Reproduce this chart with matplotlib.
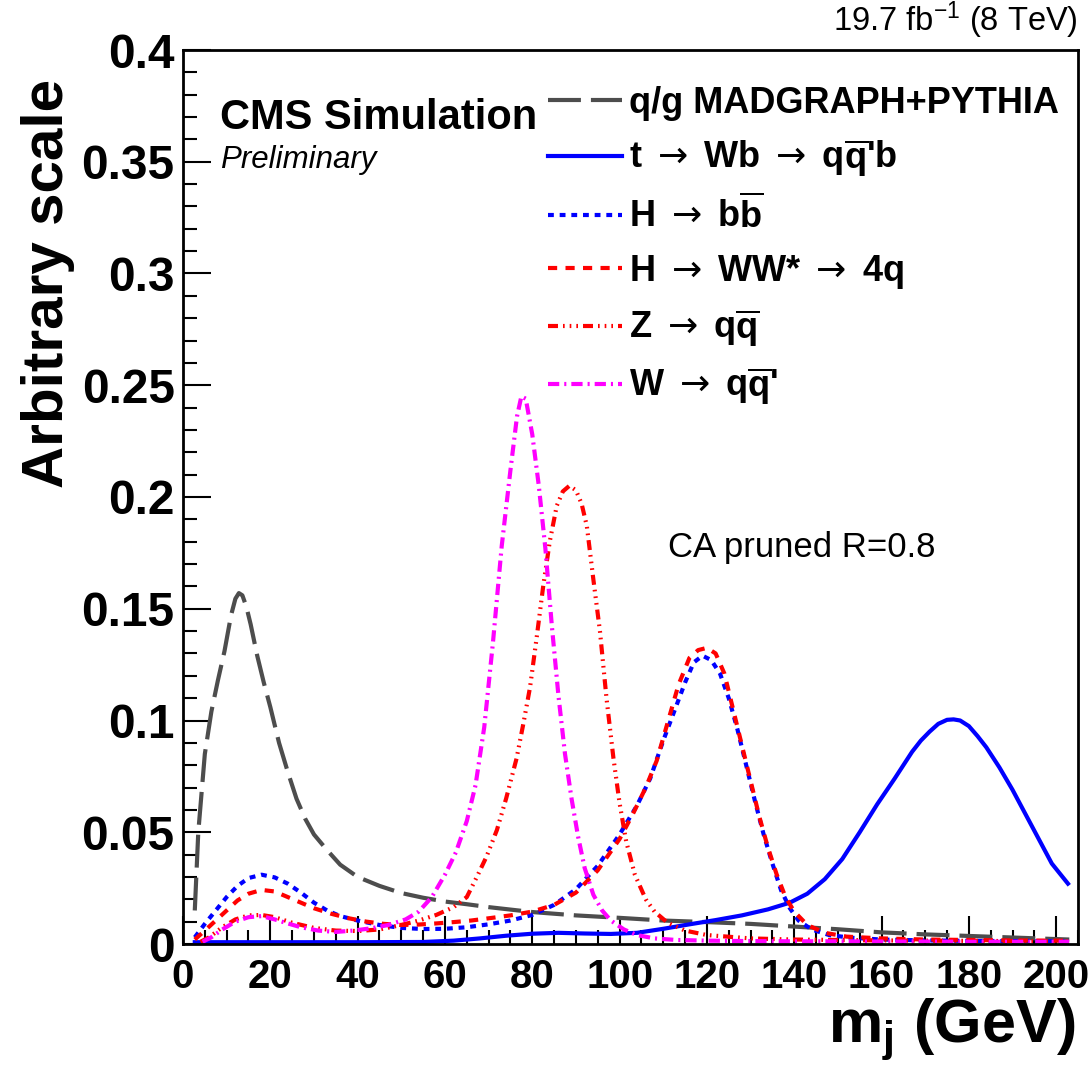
import numpy as np
import matplotlib
matplotlib.use("Agg")
import matplotlib.pyplot as plt
from matplotlib.ticker import MultipleLocator

plt.rcParams['font.family'] = ['Liberation Sans', 'DejaVu Sans']
plt.rcParams['mathtext.fontset'] = 'custom'
plt.rcParams['mathtext.rm'] = 'Liberation Sans'
plt.rcParams['mathtext.bf'] = 'Liberation Sans:bold'
plt.rcParams['mathtext.it'] = 'Liberation Sans:italic'
plt.rcParams['mathtext.sf'] = 'DejaVu Sans'

# Curves ---------------------------------------------------------------------------------------------------------------
qcd_x = [2.7, 3.5, 5, 6.5, 8, 9.5, 11, 12, 12.8, 13.6, 14.5, 15.5, 17, 18.5, 20, 22, 24, 26, 28, 30, 33, 36, 40, 45,
         50, 55, 60, 65, 70, 80, 90, 100, 110, 120, 130, 140, 150, 160, 170, 180, 190, 200, 203]
qcd_y = [0.015, 0.05, 0.085, 0.104, 0.118, 0.131, 0.147, 0.1545, 0.157, 0.156, 0.151, 0.143, 0.129, 0.117, 0.106,
         0.090, 0.077, 0.065, 0.056, 0.049, 0.042, 0.0355, 0.030, 0.026, 0.0228, 0.0207, 0.019, 0.0178, 0.0165,
         0.0143, 0.0128, 0.0117, 0.0105, 0.0098, 0.009, 0.0078, 0.0066, 0.0052, 0.0043, 0.0036, 0.0029, 0.0022, 0.002]

top_x = [2.7, 20, 40, 55, 62, 68, 74, 80, 86, 92, 98, 104, 110, 116, 122, 128, 134, 139, 143, 147, 151, 155, 159,
         163, 167, 169, 171, 173, 175, 176.5, 178, 180, 182, 184, 187, 190, 193, 196, 199, 202.7]
top_y = [0.0008, 0.0008, 0.0008, 0.0009, 0.0015, 0.0025, 0.0037, 0.0046, 0.005, 0.0047, 0.0045, 0.005, 0.0068,
         0.0088, 0.0107, 0.0128, 0.0155, 0.0185, 0.0225, 0.029, 0.038, 0.050, 0.0625, 0.074, 0.086, 0.091, 0.095,
         0.0985, 0.1003, 0.1005, 0.1, 0.0975, 0.093, 0.088, 0.079, 0.069, 0.058, 0.047, 0.036, 0.027]

hbb_x = [2.7, 5, 7.5, 10, 12.5, 15, 18, 21, 24, 27, 30, 33, 36, 40, 45, 50, 55, 60, 65, 70, 75, 80, 85, 90, 95,
         100, 104, 107, 110, 112.5, 115, 117, 119, 121, 123, 125, 127, 129, 131, 133, 135, 137, 139, 141, 144, 148,
         153, 160, 170, 180, 190, 200, 203]
hbb_y = [0.003, 0.009, 0.015, 0.021, 0.026, 0.0295, 0.031, 0.0298, 0.027, 0.023, 0.0185, 0.015, 0.0125, 0.0105,
         0.0085, 0.0072, 0.0067, 0.0068, 0.0075, 0.0088, 0.0105, 0.013, 0.0175, 0.0245, 0.035, 0.049, 0.062, 0.074,
         0.091, 0.104, 0.117, 0.126, 0.129, 0.127, 0.121, 0.11, 0.096, 0.08, 0.064, 0.049, 0.036, 0.024, 0.016,
         0.0105, 0.0065, 0.004, 0.0028, 0.002, 0.0016, 0.0014, 0.0013, 0.0012, 0.0012]

hww_x = [2.7, 5, 7.5, 10, 12.5, 15, 18, 21, 24, 27, 30, 34, 38, 42, 46, 50, 54, 58, 62, 66, 70, 75, 80, 85, 90, 95,
         100, 103, 106, 108.5, 111, 113.5, 116, 118, 120, 122, 124, 126, 128, 130, 132, 134, 136, 138, 140, 143,
         147, 152, 160, 170, 180, 190, 200, 203]
hww_y = [0.002, 0.006, 0.0105, 0.015, 0.0195, 0.0225, 0.0242, 0.0235, 0.021, 0.0185, 0.016, 0.0135, 0.0115, 0.010,
         0.009, 0.0085, 0.0087, 0.0092, 0.0098, 0.0105, 0.0115, 0.0128, 0.0145, 0.0175, 0.023, 0.033, 0.047, 0.058,
         0.070, 0.082, 0.099, 0.116, 0.128, 0.1315, 0.1325, 0.130, 0.121, 0.105, 0.089, 0.073, 0.057, 0.043, 0.031,
         0.021, 0.0145, 0.0085, 0.005, 0.0033, 0.0025, 0.002, 0.0018, 0.0016, 0.0015, 0.0015]

z_x = [4, 6, 9, 12, 15, 18, 21, 25, 30, 35, 40, 45, 50, 54, 58, 62, 65, 67.3, 69.5, 71.9, 74, 76.4, 78, 79.5, 81,
       82.5, 84, 85.6, 87, 88.5, 90, 91.3, 92.5, 94, 95.5, 97, 98.6, 100, 101.5, 103.5, 106, 108, 111, 115, 120,
       130, 140, 150, 160, 170, 180, 190, 200, 203]
z_y = [0.001, 0.003, 0.0075, 0.011, 0.0128, 0.013, 0.012, 0.0095, 0.0072, 0.006, 0.0058, 0.0065, 0.0085, 0.0105,
       0.013, 0.0165, 0.021, 0.030, 0.039, 0.051, 0.065, 0.083, 0.099, 0.115, 0.137, 0.160, 0.180, 0.196, 0.2025,
       0.205, 0.203, 0.197, 0.187, 0.163, 0.14, 0.11, 0.083, 0.063, 0.046, 0.031, 0.020, 0.0145, 0.0095, 0.006,
       0.004, 0.0025, 0.002, 0.0018, 0.0016, 0.0015, 0.0014, 0.0013, 0.0012, 0.0012]

w_x = [4.5, 6.5, 9, 12, 15, 18, 21, 24, 27, 31, 35, 39, 43, 47, 51, 54, 57, 60, 62.5, 65, 67, 69, 71, 73, 75, 76.5,
       77.5, 78.5, 80, 81.5, 83, 84.5, 86, 87.5, 89, 90.5, 92, 94, 96, 98, 101, 104, 108, 113, 120, 130, 140, 150,
       160, 170, 180, 190, 200, 203]
w_y = [0.001, 0.003, 0.0065, 0.010, 0.012, 0.0125, 0.011, 0.0092, 0.0075, 0.006, 0.0054, 0.006, 0.007, 0.0085,
       0.011, 0.0145, 0.021, 0.031, 0.041, 0.055, 0.071, 0.097, 0.135, 0.178, 0.212, 0.236, 0.245, 0.244, 0.228,
       0.205, 0.177, 0.142, 0.111, 0.085, 0.065, 0.048, 0.034, 0.022, 0.015, 0.0105, 0.0065, 0.004, 0.0025, 0.0018,
       0.0015, 0.0013, 0.0012, 0.0012, 0.0011, 0.0011, 0.001, 0.001, 0.001, 0.001]

# Figure ---------------------------------------------------------------------------------------------------------------
fig = plt.figure(figsize=(10.92, 10.87), dpi=100)
ax = fig.add_axes([183/1092, 143/1087, 895/1092, 894/1087])

lw = 3.0
arrow = r"$\mathsf{\rightarrow}$"
qbar = r"$\overline{\mathbf{q}}$"
kw = dict(lw=lw, dash_capstyle="butt", solid_joinstyle="round", dash_joinstyle="round")
ax.plot(qcd_x, qcd_y, color="#4d4d4d", dashes=(7.9, 2.4), label="q/g MADGRAPH+PYTHIA", **kw)
ax.plot(top_x, top_y, color="#0000ff", label=f"t {arrow} Wb {arrow} q{qbar}'b", **kw)
ax.plot(hbb_x, hbb_y, color="#0000ff", dashes=(1.4, 1.4), label=f"H {arrow} b" + r"$\overline{\mathbf{b}}$", **kw)
ax.plot(hww_x, hww_y, color="#ff0000", dashes=(2.2, 2.0), label=f"H {arrow} WW* {arrow} 4q", **kw)
ax.plot(z_x, z_y, color="#ff0000", dashes=(2.4, 1.2, 0.4, 1.2, 0.4, 1.2, 0.4, 1.2),
        label=f"Z {arrow} q{qbar}", **kw)
ax.plot(w_x, w_y, color="#ff00ff", dashes=(2.7, 1.2, 0.5, 1.2), label=f"W {arrow} q{qbar}'", **kw)

ax.set_xlim(0, 205)
ax.set_ylim(0, 0.4)
ax.xaxis.set_major_locator(MultipleLocator(20))
ax.xaxis.set_minor_locator(MultipleLocator(5))
ax.yaxis.set_major_locator(MultipleLocator(0.05))
ax.yaxis.set_minor_locator(MultipleLocator(0.01))
ax.yaxis.set_major_formatter(plt.FuncFormatter(lambda v, p: "0" if v == 0 else ("%g" % round(v, 2))))
ax.tick_params(which="both", direction="in", top=False, right=False, width=1.5)
ax.tick_params(which="major", length=20)
ax.tick_params(which="minor", length=10)
ax.tick_params(axis="y", labelsize=34.5, pad=6)
ax.tick_params(axis="x", labelsize=29, pad=10)
for lab in ax.get_xticklabels() + ax.get_yticklabels():
    lab.set_fontweight("bold")
for s in ax.spines.values():
    s.set_linewidth(2)

fig.text(48/1092, 1 - 283/1087, "Arbitrary scale", rotation=90, ha="center", va="center",
         fontsize=42, fontweight="bold")
fig.text(1075/1092, 1 - 1030/1087, "$\\mathbf{m_{j}}$ (GeV)", ha="right", va="center",
         fontsize=44, fontweight="bold")
fig.text(1078/1092, 1 - 20/1087, "19.7 fb$^{-1}$ (8 TeV)", ha="right", va="center", fontsize=23.5)

ax.text(0.0413, 0.924, "CMS Simulation", transform=ax.transAxes, fontsize=30, fontweight="bold", va="center")
ax.text(0.0413, 0.877, "Preliminary", transform=ax.transAxes, fontsize=22.5, style="italic", va="center")
ax.text(0.542, 0.443, "CA pruned R=0.8", transform=ax.transAxes, fontsize=25, va="center")

ax.legend(loc="upper left", bbox_to_anchor=(0.408, 0.960), frameon=False, borderpad=0, borderaxespad=0,
          handlelength=2.05, handletextpad=0.2, labelspacing=0.46,
          prop={"size": 26, "weight": "bold"})

fig.savefig("out.png", dpi=100)
